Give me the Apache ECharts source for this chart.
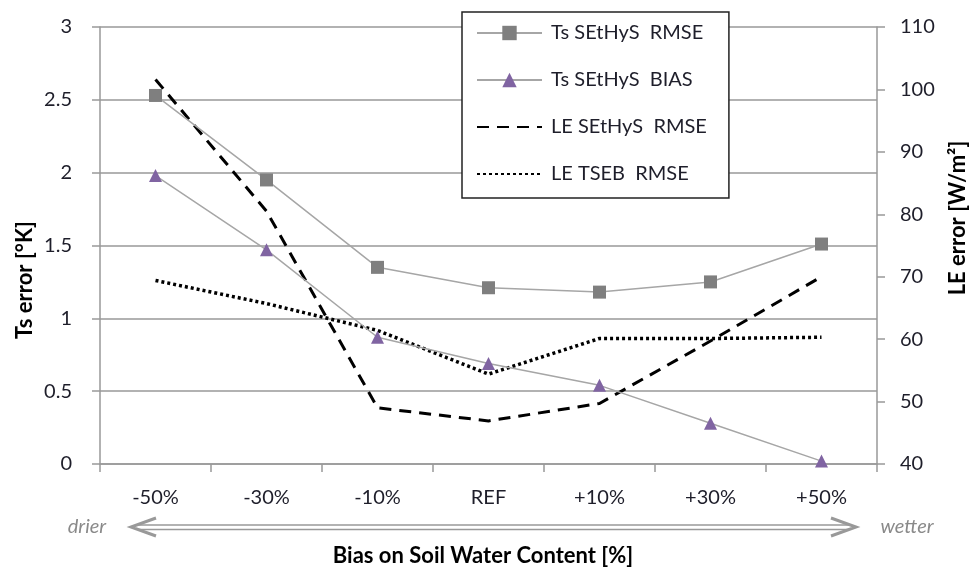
<!DOCTYPE html>
<html>
<head>
<meta charset="utf-8">
<script src="https://cdn.jsdelivr.net/npm/echarts@6/dist/echarts.min.js"></script>
<style>
  html, body { margin: 0; padding: 0; background: #fff; }
  #chart { width: 976px; height: 572px; }
</style>
</head>
<body>
<div id="chart"></div>
<script>
// categories on the x axis
const categories = ['-50%', '-30%', '-10%', 'REF', '+10%', '+30%', '+50%'];

// Ts errors (left axis, °K)
const tsSethysRmse = [2.53, 1.95, 1.35, 1.21, 1.18, 1.25, 1.51];
const tsSethysBias = [1.98, 1.47, 0.87, 0.69, 0.54, 0.28, 0.02];

// LE errors (right axis, W/m2)
const leSethysRmse = [101.6, 80.5, 49.0, 46.9, 49.7, 59.7, 70.0];
const leTsebRmse = [69.4, 65.7, 61.4, 54.4, 60.1, 60.1, 60.3];

const FONT = 'Lato, "Liberation Sans", sans-serif';
const GRAY = '#999999';
const TXT = '#1e1e2a';

const chart = echarts.init(document.getElementById('chart'), null, { renderer: 'canvas' });

chart.setOption({
  backgroundColor: '#ffffff',
  animation: false,
  textStyle: { fontFamily: FONT },
  grid: { left: 100, right: 99, top: 27, bottom: 108 },
  legend: {
    orient: 'vertical',
    left: 462,
    top: 12,
    padding: [10, 22, 13, 14],
    backgroundColor: '#ffffff',
    borderColor: '#222222',
    borderWidth: 1.5,
    itemWidth: 65,
    itemHeight: 18,
    itemGap: 25,
    textStyle: { fontFamily: FONT, fontSize: 20, color: TXT, lineHeight: 22, padding: [0, 0, 0, 4] },
    data: ['Ts SEtHyS  RMSE', 'Ts SEtHyS  BIAS', 'LE SEtHyS  RMSE', 'LE TSEB  RMSE'],
  },
  xAxis: {
    type: 'category',
    data: categories,
    boundaryGap: true,
    axisLine: { lineStyle: { color: GRAY, width: 1.5 } },
    axisTick: { show: true, length: 8, lineStyle: { color: GRAY, width: 1.5 } },
    axisLabel: { color: TXT, fontSize: 20, margin: 24, fontFamily: FONT },
  },
  yAxis: [
    {
      type: 'value',
      min: 0,
      max: 3,
      interval: 0.5,
      position: 'left',
      axisLine: { show: true, lineStyle: { color: GRAY, width: 1.5 } },
      axisTick: { show: true, length: 8, lineStyle: { color: GRAY, width: 1.5 } },
      axisLabel: { color: TXT, fontSize: 20, margin: 28, fontFamily: FONT },
      splitLine: { show: true, lineStyle: { color: GRAY, width: 1.5 } },
    },
    {
      type: 'value',
      min: 40,
      max: 110,
      interval: 10,
      position: 'right',
      axisLine: { show: true, lineStyle: { color: GRAY, width: 1.5 } },
      axisTick: { show: true, length: 8, lineStyle: { color: GRAY, width: 1.5 } },
      axisLabel: { color: TXT, fontSize: 20, margin: 23, fontFamily: FONT },
      splitLine: { show: false },
    },
  ],
  series: [
    {
      name: 'Ts SEtHyS  RMSE',
      type: 'line',
      yAxisIndex: 0,
      data: tsSethysRmse,
      symbol: 'rect',
      symbolSize: 13,
      itemStyle: { color: '#7f7f7f' },
      lineStyle: { color: '#a6a6a6', width: 1.5 },
      z: 3,
    },
    {
      name: 'Ts SEtHyS  BIAS',
      type: 'line',
      yAxisIndex: 0,
      data: tsSethysBias,
      symbol: 'triangle',
      symbolSize: 13,
      itemStyle: { color: '#8064a2' },
      lineStyle: { color: '#a6a6a6', width: 1.5 },
      z: 3,
    },
    {
      name: 'LE SEtHyS  RMSE',
      type: 'line',
      yAxisIndex: 1,
      data: leSethysRmse,
      symbol: 'none',
      itemStyle: { color: 'rgba(0,0,0,0)' },
      lineStyle: { color: '#000000', width: 3, type: [12, 8] },
      z: 2,
    },
    {
      name: 'LE TSEB  RMSE',
      type: 'line',
      yAxisIndex: 1,
      data: leTsebRmse,
      symbol: 'none',
      itemStyle: { color: 'rgba(0,0,0,0)' },
      lineStyle: { color: '#000000', width: 3.5, type: [3, 3] },
      z: 2,
    },
  ],
  graphic: [
    {
      type: 'text', x: 25, y: 280, rotation: Math.PI / 2,
      style: { text: 'Ts error [°K]', font: 'bold 22px ' + FONT, fill: '#000', align: 'center', verticalAlign: 'middle' },
    },
    {
      type: 'text', x: 958, y: 218, rotation: Math.PI / 2,
      style: { text: 'LE error [W/m²]', font: 'bold 22px ' + FONT, fill: '#000', align: 'center', verticalAlign: 'middle' },
    },
    {
      type: 'text', x: 483, y: 556,
      style: { text: 'Bias on Soil Water Content [%]', font: 'bold 22px ' + FONT, fill: '#000', align: 'center', verticalAlign: 'middle' },
    },
    {
      type: 'text', x: 87, y: 527,
      style: { text: 'drier', font: 'italic 20px ' + FONT, fill: '#8a8a8a', align: 'center', verticalAlign: 'middle' },
    },
    {
      type: 'text', x: 907, y: 527,
      style: { text: 'wetter', font: 'italic 20px ' + FONT, fill: '#8a8a8a', align: 'center', verticalAlign: 'middle' },
    },
    // double-line arrow
    { type: 'line', shape: { x1: 138, y1: 525, x2: 849, y2: 525 }, style: { stroke: GRAY, lineWidth: 1.5 } },
    { type: 'line', shape: { x1: 138, y1: 529.5, x2: 849, y2: 529.5 }, style: { stroke: GRAY, lineWidth: 1.5 } },
    { type: 'polyline', shape: { points: [[156, 518], [131, 527], [156, 536]] }, style: { stroke: GRAY, lineWidth: 3, fill: null } },
    { type: 'polyline', shape: { points: [[831, 518], [856, 527], [831, 536]] }, style: { stroke: GRAY, lineWidth: 3, fill: null } },
  ],
});

window.addEventListener('resize', () => chart.resize());
</script>
</body>
</html>
